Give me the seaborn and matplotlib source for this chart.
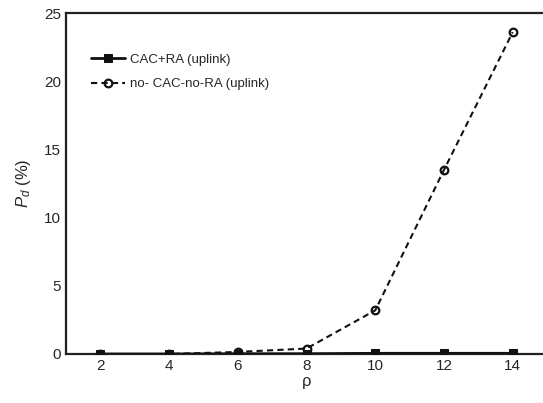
import matplotlib
matplotlib.use("Agg")
import matplotlib.pyplot as plt
import seaborn as sns
import pandas as pd
from matplotlib.ticker import MultipleLocator

rho = [2, 4, 6, 8, 10, 12, 14]
cac_ra = [0.0, 0.0, 0.02, 0.02, 0.05, 0.05, 0.05]
no_cac_no_ra = [0.0, 0.0, 0.15, 0.4, 3.2, 13.5, 23.6]
series_names = ["CAC+RA (uplink)", "no- CAC-no-RA (uplink)"]

sns.set_style("white")
plt.rcParams["font.family"] = ["Liberation Sans", "DejaVu Sans"]
plt.rcParams["mathtext.fontset"] = "custom"
plt.rcParams["mathtext.it"] = "Liberation Sans:italic"
plt.rcParams["mathtext.rm"] = "Liberation Sans"

df = pd.DataFrame({
    "rho": rho * 2,
    "pd": cac_ra + no_cac_no_ra,
    "series": [series_names[0]] * len(rho) + [series_names[1]] * len(rho),
})

fig = plt.figure(figsize=(5.43, 4.03), dpi=100)
ax = fig.add_axes([0.1215, 0.1216, 0.886, 0.846])

sns.lineplot(data=df[df.series == series_names[0]], x="rho", y="pd", ax=ax,
             color="#111111", lw=2.0, marker="s", markersize=5.5,
             markeredgecolor="#111111", label=series_names[0], zorder=3)
sns.lineplot(data=df[df.series == series_names[1]], x="rho", y="pd", ax=ax,
             color="#111111", lw=1.5, linestyle=(0, (3, 2)), marker="o",
             markersize=5.5, markerfacecolor="none", markeredgewidth=1.6,
             markeredgecolor="#111111", label=series_names[1], zorder=4)

ax.set_xlim(1, 15)
ax.set_ylim(0, 25)
ax.set_xticks(rho)
ax.xaxis.set_minor_locator(MultipleLocator(1))
ax.yaxis.set_major_locator(MultipleLocator(5))
ax.tick_params(which="both", direction="in", labelsize=11, color="#222222")
ax.tick_params(which="major", length=5, width=1)
ax.tick_params(which="minor", length=4, width=1)
ax.tick_params(axis="y", which="minor", length=0)

for s in ax.spines.values():
    s.set_linewidth(1.6)
    s.set_color("#222222")

ax.set_xlabel("ρ", fontsize=12, labelpad=1)
ax.set_ylabel(r"$P_d$ (%)", fontsize=12, labelpad=8)

leg = ax.legend(loc="upper left", bbox_to_anchor=(0.035, 0.905), frameon=False,
                fontsize=9.5, handlelength=2.6, handletextpad=0.4,
                labelspacing=0.95, borderaxespad=0.2)

fig.savefig("out.png", dpi=100)
